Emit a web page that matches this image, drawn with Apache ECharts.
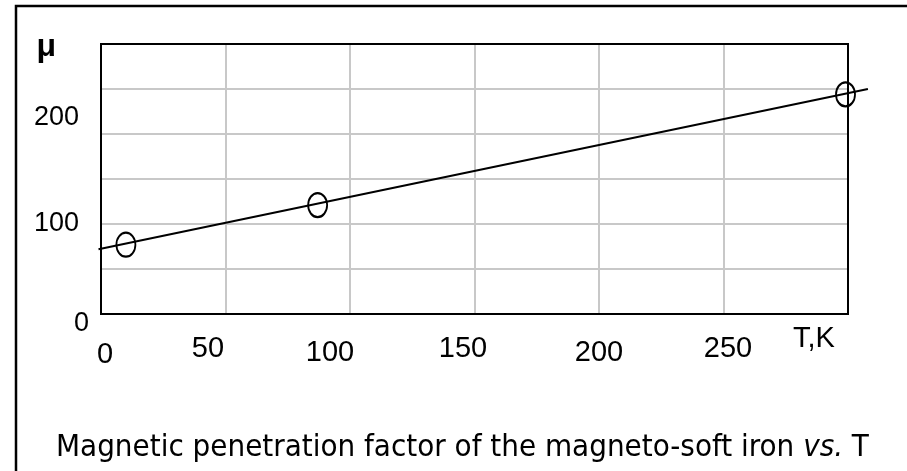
<!DOCTYPE html>
<html>
<head>
<meta charset="utf-8">
<script src="https://cdn.jsdelivr.net/npm/echarts@6/dist/echarts.min.js"></script>
<style>
html,body{margin:0;padding:0;background:#fff;}
#c{width:907px;height:471px;}
</style>
</head>
<body>
<div id="c"></div>
<script>
// ---- data ----
const tempK = [10, 87, 299];        // measured T, K
const muVals = [77, 121, 244];      // measured magnetic penetration factor
const fitT = [-1, 308];             // straight-line fit, T ends
const fitMu = [72, 250];            // straight-line fit, mu ends
const xTickValues = [0, 50, 100, 150, 200, 250];
const yTickValues = [0, 100, 200];
const xAxisName = 'T,K';
const yAxisName = 'μ';
const caption = 'Magnetic penetration factor of the magneto-soft iron ';
const captionItalic = 'vs.';
const captionEnd = ' T';

// ---- label nudges (style only) ----
const xLabPad = [[6,0,0,8],[0,35,0,0],[4,40,0,0],[0,23,0,0],[4,0,0,0],[0,0,0,9]];
const yLabPad = [[20,0,0,0],[0,10,0,0],[0,10,32,0]];

const xRich = {}, yRich = {};
xLabPad.forEach((p,i)=>{ xRich['x'+i] = {padding:p, fontSize:29, fontFamily:'Liberation Sans', color:'#000'}; });
yLabPad.forEach((p,i)=>{ yRich['y'+i] = {padding:p, fontSize:27, fontFamily:'Liberation Sans', color:'#000'}; });

const capFont = '"Liberation Sans Narrow", "DejaVu Sans Condensed", "Liberation Sans"';

const chart = echarts.init(document.getElementById('c'), null, {renderer:'canvas'});
chart.setOption({
  animation:false,
  backgroundColor:'#fff',
  title:{
    text:'{n|'+caption+'}{i|'+captionItalic+'}{n|'+captionEnd+'}',
    left:51, top:427,
    textStyle:{
      fontWeight:'normal',
      rich:{
        n:{fontFamily:capFont, fontSize:31, fontWeight:'normal', color:'#000'},
        i:{fontFamily:capFont, fontSize:31, fontWeight:'normal', fontStyle:'italic', color:'#000'}
      }
    }
  },
  graphic:[{
    type:'rect', shape:{x:16, y:6, width:900, height:480},
    style:{fill:'none', stroke:'#000', lineWidth:2.5}, silent:true, z:-1
  }],
  grid:{left:101, top:44, width:747, height:270, show:true, borderColor:'#000', borderWidth:2, backgroundColor:'transparent', z:3},
  xAxis:{
    type:'value', min:0, max:300, interval:50,
    axisLine:{show:false}, axisTick:{show:false},
    splitLine:{show:true, lineStyle:{color:'#c8c8c8', width:2}},
    axisLabel:{
      customValues:xTickValues, margin:20,
      formatter:(v)=>{ const i = xTickValues.indexOf(v); return '{x'+i+'|'+v+'}'; },
      rich:xRich
    },
    name:xAxisName, nameLocation:'end', nameGap:-55,
    nameTextStyle:{fontSize:29, fontFamily:'Liberation Sans', color:'#000', align:'left', verticalAlign:'top', padding:[10,0,0,0]}
  },
  yAxis:{
    type:'value', min:0, max:300, interval:50,
    axisLine:{show:false}, axisTick:{show:false},
    splitLine:{show:true, lineStyle:{color:'#c8c8c8', width:2}},
    axisLabel:{
      customValues:yTickValues, margin:12,
      formatter:(v)=>{ const i = yTickValues.indexOf(v); return '{y'+i+'|'+v+'}'; },
      rich:yRich
    },
    name:yAxisName, nameLocation:'end', nameGap:-3,
    nameTextStyle:{fontSize:32, fontWeight:'bold', fontFamily:'Liberation Sans', color:'#000', align:'right', verticalAlign:'middle', padding:[0,45,0,0]}
  },
  series:[
    {
      type:'custom', clip:false, z:4, silent:true,
      data:[[fitT[0], fitMu[0], fitT[1], fitMu[1]]],
      encode:{x:[0,2], y:[1,3]},
      renderItem:(params, api)=>{
        const p0 = api.coord([api.value(0), api.value(1)]);
        const p1 = api.coord([api.value(2), api.value(3)]);
        return {type:'line', shape:{x1:p0[0], y1:p0[1], x2:p1[0], y2:p1[1]},
                style:{stroke:'#000', lineWidth:2}};
      }
    },
    {
      type:'scatter', data:tempK.map((t,i)=>[t, muVals[i]]), symbol:'circle', symbolSize:[19,24],
      clip:false, itemStyle:{color:'rgba(0,0,0,0)', borderColor:'#000', borderWidth:2, opacity:1}, z:5, silent:true
    }
  ]
});
</script>
</body>
</html>
